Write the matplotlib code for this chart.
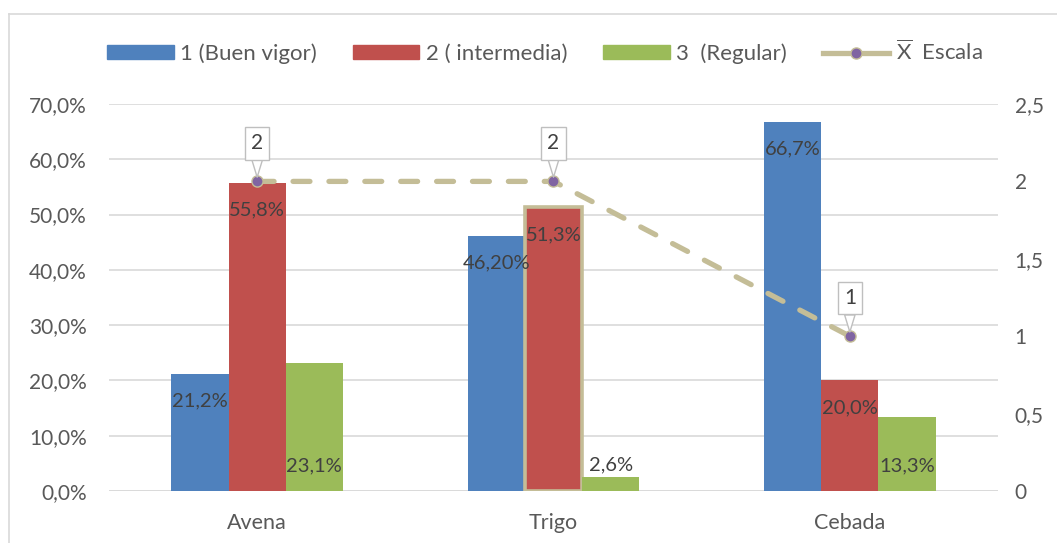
import matplotlib
matplotlib.use("Agg")
import matplotlib.pyplot as plt
import numpy as np
from matplotlib.lines import Line2D
from matplotlib.patches import Patch

plt.rcParams['font.family'] = ['Lato', 'DejaVu Sans']
plt.rcParams['mathtext.fontset'] = 'custom'
plt.rcParams['mathtext.rm'] = 'Lato'
plt.rcParams['mathtext.it'] = 'Lato:italic'
plt.rcParams['mathtext.bf'] = 'Lato:bold'

categories = ["Avena", "Trigo", "Cebada"]
buen_vigor = [21.2, 46.2, 66.7]
intermedia = [55.8, 51.3, 20.0]
regular = [23.1, 2.6, 13.3]
escala = [2, 2, 1]

lbl_buen = ["21,2%", "46,20%", "66,7%"]
lbl_inter = ["55,8%", "51,3%", "20,0%"]
lbl_reg = ["23,1%", "2,6%", "13,3%"]
lbl_escala = ["2", "2", "1"]

yticks_left = [0, 10, 20, 30, 40, 50, 60, 70]
yticklabels_left = ["0,0%", "10,0%", "20,0%", "30,0%", "40,0%", "50,0%", "60,0%", "70,0%"]
yticks_right = [0, 0.5, 1, 1.5, 2, 2.5]
yticklabels_right = ["0", "0,5", "1", "1,5", "2", "2,5"]

series_names = ["1 (Buen vigor)", "2 ( intermedia)", "3  (Regular)", r"$\overline{\mathrm{X}}$  Escala"]

BLUE = "#4F81BD"
RED = "#C0504D"
GREEN = "#9BBB59"
TAN = "#C4BD97"
PURPLE = "#8064A2"
TXT = "#595959"
LBL = "#404040"
GRID = "#D9D9D9"

fig = plt.figure(figsize=(10.57, 5.43), dpi=100)
ax = fig.add_axes([109/1057, 1-491/543, 889/1057, 387/543])

x = np.arange(len(categories))
w = 0.193
bars_b = ax.bar(x - w, buen_vigor, w, color=BLUE, zorder=3)
bars_r = ax.bar(x, intermedia, w, color=RED, zorder=3)
bars_g = ax.bar(x + w, regular, w, color=GREEN, zorder=3)
# highlighted Trigo bar
bars_r[1].set_edgecolor(TAN)
bars_r[1].set_linewidth(2.6)

ax.set_xlim(-0.5, 2.5)
ax.set_ylim(0, 70)
ax.set_yticks(yticks_left)
ax.set_yticklabels(yticklabels_left)
ax.set_xticks(x)
ax.set_xticklabels(categories)
ax.yaxis.grid(True, color=GRID, lw=1.2, zorder=0)
ax.set_axisbelow(True)
for s in ax.spines.values():
    s.set_visible(False)
ax.axhline(0, color=GRID, lw=1.2, zorder=2)
ax.tick_params(axis='y', length=0, labelsize=15, colors=TXT, pad=16)
ax.tick_params(axis='x', length=0, labelsize=15.5, colors=TXT, pad=16)

fs = 14.5
# data labels
for i in range(3):
    ax.annotate(lbl_buen[i], (x[i] - w, buen_vigor[i]), xytext=(0, -27), textcoords='offset pixels',
                ha='center', va='center', fontsize=fs, color=LBL, zorder=5)
    ax.annotate(lbl_inter[i], (x[i], intermedia[i]), xytext=(0, -27), textcoords='offset pixels',
                ha='center', va='center', fontsize=fs, color=LBL, zorder=5)
    if i == 1:
        ax.annotate(lbl_reg[i], (x[i] + w, regular[i]), xytext=(0, 12), textcoords='offset pixels',
                    ha='center', va='center', fontsize=fs, color=LBL, zorder=5)
    else:
        ax.annotate(lbl_reg[i], (x[i] + w, 0), xytext=(0, 25), textcoords='offset pixels',
                    ha='center', va='center', fontsize=fs, color=LBL, zorder=5)

ax2 = ax.twinx()
ax2.set_ylim(0, 2.5)
ax2.set_yticks(yticks_right)
ax2.set_yticklabels(yticklabels_right)
for s in ax2.spines.values():
    s.set_visible(False)
ax2.tick_params(axis='y', length=0, labelsize=15, colors=TXT, pad=12)
ax2.plot(x, escala, color=TAN, lw=3.8, dashes=(3.2, 3.6), dash_capstyle='round',
         marker='o', markersize=8, markerfacecolor=PURPLE, markeredgecolor=TAN,
         markeredgewidth=1, zorder=4)
for i in range(3):
    ax2.annotate(lbl_escala[i], (x[i], escala[i]), xytext=(0, 38), textcoords='offset pixels',
                 ha='center', va='center', fontsize=15, color=LBL, zorder=6,
                 bbox=dict(boxstyle='square,pad=0.3', fc='white', ec='#BFBFBF', lw=1),
                 arrowprops=dict(arrowstyle='wedge,tail_width=0.5,shrink_factor=0.5', fc='white',
                                 ec='#BFBFBF', lw=1, shrinkA=0, shrinkB=3))

handles = [Patch(color=BLUE), Patch(color=RED), Patch(color=GREEN),
           Line2D([], [], color=TAN, lw=3.8, marker='o', markersize=8,
                  markerfacecolor=PURPLE, markeredgecolor=TAN)]
fig.legend(handles, series_names, loc='center', bbox_to_anchor=(545/1057, 1-52/543), ncol=4,
           frameon=False, fontsize=16, labelcolor=TXT, handlelength=3.0, handleheight=0.6,
           handletextpad=0.3, columnspacing=1.6)

# chart border (top and left)
fig.add_artist(Line2D([9/1057, 9/1057], [0, 1-14/543], transform=fig.transFigure, color=GRID, lw=1.2))
fig.add_artist(Line2D([9/1057, 1], [1-14/543, 1-14/543], transform=fig.transFigure, color=GRID, lw=1.2))

fig.savefig("out.png", dpi=100, facecolor='white')
